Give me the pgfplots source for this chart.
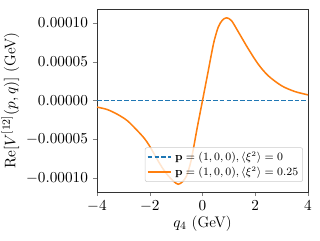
\documentclass[border=0pt]{standalone}
\usepackage{pgfplots}
\pgfplotsset{compat=1.18}
\definecolor{tabblue}{HTML}{1F77B4}
\definecolor{taborange}{HTML}{FF7F0E}
\begin{document}
\begin{tikzpicture}
\begin{axis}[
  scale only axis,
  width=151.7pt, height=131.5pt,
  xmin=-4, xmax=4,
  ymin=-0.000118, ymax=0.000118,
  xtick={-4,-2,0,2,4},
  ytick={-0.0001,-0.00005,0,0.00005,0.0001},
  yticklabels={$-0.00010$,$-0.00005$,$0.00000$,$0.00005$,$0.00010$},
  scaled y ticks=false,
  tick align=outside,
  xtick pos=bottom, ytick pos=left,
  major tick length=3pt,
  tick label style={font=\fontsize{11}{13}\selectfont},
  label style={font=\fontsize{11}{13}\selectfont},
  axis line style={line width=0.6pt, black!80},
  xlabel={$q_4$ (GeV)},
  ylabel={$\mathrm{Re}[V^{[12]}(p,q)]$ (GeV)},
  xlabel style={yshift=4pt},
  ylabel style={yshift=-2pt},
  legend style={font=\fontsize{7.6}{9}\selectfont, draw=black!20, rounded corners=1.5pt, fill=white, fill opacity=0.8, text opacity=1, inner sep=1.2pt, row sep=-1pt, at={(0.976,0.055)}, anchor=south east},
  legend cell align=left,
]
\addplot[tabblue, line width=1.3pt, dash pattern=on 3.4pt off 1.5pt] coordinates {(-4,0) (4,0)};
\addlegendentry{$\mathbf{p}=(1,0,0),\langle\xi^2\rangle=0$}
\addplot[taborange, line width=1.1pt, smooth] coordinates {
(-4,-0.0000085) (-3.62,-0.0000115) (-3.24,-0.0000175) (-2.85,-0.0000260) (-2.48,-0.0000385) (-2.2,-0.0000490) (-2.0,-0.0000590) (-1.68,-0.0000780) (-1.5,-0.0000880) (-1.3,-0.0000970) (-1.1,-0.0001040) (-0.92,-0.0001080) (-0.75,-0.0001045) (-0.6,-0.0000970) (-0.45,-0.0000800) (-0.35,-0.0000630) (-0.2,-0.0000350) (-0.1,-0.0000175) (0,0) (0.1,0.0000175) (0.2,0.0000350) (0.35,0.0000620) (0.45,0.0000780) (0.6,0.0000950) (0.75,0.0001035) (0.91,0.0001067) (1.1,0.0001030) (1.35,0.0000890) (1.73,0.0000670) (2.11,0.0000470) (2.49,0.0000320) (3.0,0.0000190) (3.5,0.0000116) (4,0.0000073)};
\addlegendentry{$\mathbf{p}=(1,0,0),\langle\xi^2\rangle=0.25$}
\end{axis}
\pgfresetboundingbox
\path ([shift={(-69.7pt,-34.5pt)}]current axis.south west) rectangle ([shift={(8.6pt,6.5pt)}]current axis.north east);
\end{tikzpicture}
\end{document}
